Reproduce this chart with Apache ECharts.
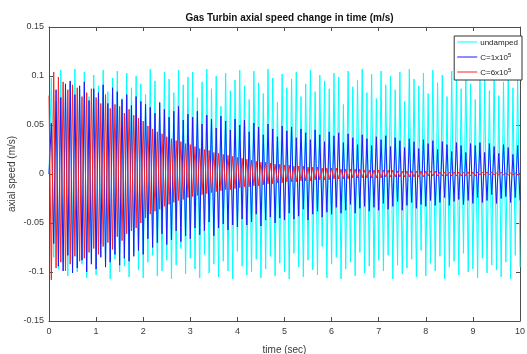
<!DOCTYPE html>
<html>
<head>
<meta charset="utf-8">
<script src="https://cdn.jsdelivr.net/npm/echarts@6/dist/echarts.min.js"></script>
<style>html,body{margin:0;padding:0;background:#fff}#c{width:527px;height:354px}</style>
</head>
<body>
<div id="c"></div>
<script>
// sample spacing of the traced signals (s)
const timeStep = 0.05;
const xTicks = [0,1,2,3,4,5,6,7,8,9,10];
const yTicks = [-0.15,-0.1,-0.05,0,0.05,0.1,0.15];
const seriesNames = ['undamped','C=1x10^5','C=6x10^5'];

// undamped (cyan) peaks/troughs
const undamped = [
0, 0.098, -0.085, 0.074, -0.097, 0.106, -0.090, 0.082, -0.104, 0.093, -0.078, 0.107, -0.100, 0.086, -0.092, 0.104, -0.106, 0.079, -0.088, 0.101,
-0.103, 0.090, -0.071, 0.106, -0.095, 0.084, -0.107, 0.098, -0.087, 0.105, -0.100, 0.077, -0.094, 0.103, -0.105, 0.088, -0.080, 0.100, -0.098, 0.092,
-0.106, 0.081, -0.090, 0.107, -0.083, 0.095, -0.104, 0.072, -0.099, 0.104, -0.088, 0.097, -0.107, 0.083, -0.093, 0.106, -0.076, 0.091, -0.102, 0.099,
-0.086, 0.104, -0.097, 0.078, -0.106, 0.094, -0.082, 0.107, -0.101, 0.087, -0.092, 0.100, -0.105, 0.069, -0.089, 0.103, -0.099, 0.085, -0.107, 0.096,
-0.079, 0.106, -0.094, 0.090, -0.103, 0.076, -0.100, 0.105, -0.087, 0.093, -0.106, 0.082, -0.097, 0.107, -0.084, 0.098, -0.104, 0.073, -0.091, 0.102,
-0.100, 0.088, -0.107, 0.097, -0.081, 0.104, -0.095, 0.079, -0.105, 0.092, -0.088, 0.106, -0.098, 0.084, -0.103, 0.101, -0.074, 0.095, -0.106, 0.087,
-0.092, 0.103, -0.085, 0.099, -0.107, 0.071, -0.097, 0.105, -0.090, 0.089, -0.104, 0.096, -0.080, 0.107, -0.101, 0.083, -0.094, 0.102, -0.106, 0.077,
-0.088, 0.105, -0.099, 0.091, -0.083, 0.100, -0.107, 0.086, -0.093, 0.104, -0.102, 0.074, -0.096, 0.107, -0.087, 0.097, -0.105, 0.090, -0.078, 0.103,
-0.104, 0.082, -0.091, 0.106, -0.099, 0.093, -0.084, 0.101, -0.107, 0.079, -0.095, 0.105, -0.089, 0.098, -0.103, 0.087, -0.081, 0.107, -0.100, 0.092,
-0.097, 0.076, -0.106, 0.103, -0.086, 0.096, -0.101, 0.085, -0.093, 0.107, -0.098, 0.080, -0.105, 0.094, -0.090, 0.104, -0.107, 0.088, -0.083, 0.100,
-0.095
];

// C = 1x10^5 (blue)
const damped1 = [
0, 0.052, -0.071, 0.086, -0.094, 0.078, -0.099, 0.092, -0.083, 0.095, -0.101, 0.081, -0.096, 0.090, -0.088, 0.094, -0.100, 0.075, -0.092, 0.087,
-0.097, 0.083, -0.085, 0.091, -0.095, 0.072, -0.090, 0.088, -0.082, 0.084, -0.093, 0.076, -0.086, 0.081, -0.089, 0.070, -0.084, 0.079, -0.078, 0.074,
-0.082, 0.071, -0.066, 0.068, -0.075, 0.062, -0.070, 0.073, -0.061, 0.066, -0.072, 0.058, -0.067, 0.064, -0.058, 0.069, -0.069, 0.055, -0.063, 0.061,
-0.066, 0.058, -0.055, 0.064, -0.062, 0.051, -0.058, 0.060, -0.049, 0.056, -0.063, 0.047, -0.055, 0.059, -0.051, 0.054, -0.057, 0.045, -0.052, 0.056,
-0.054, 0.050, -0.046, 0.055, -0.052, 0.043, -0.049, 0.052, -0.041, 0.048, -0.053, 0.040, -0.047, 0.051, -0.044, 0.046, -0.050, 0.038, -0.045, 0.049,
-0.047, 0.044, -0.040, 0.048, -0.046, 0.037, -0.043, 0.046, -0.036, 0.042, -0.047, 0.035, -0.041, 0.045, -0.038, 0.040, -0.044, 0.033, -0.039, 0.043,
-0.041, 0.039, -0.034, 0.042, -0.040, 0.032, -0.037, 0.041, -0.031, 0.037, -0.040, 0.030, -0.035, 0.040, -0.033, 0.036, -0.038, 0.029, -0.034, 0.038,
-0.037, 0.035, -0.030, 0.039, -0.036, 0.028, -0.033, 0.037, -0.028, 0.034, -0.037, 0.027, -0.032, 0.036, -0.029, 0.033, -0.035, 0.026, -0.031, 0.035,
-0.033, 0.031, -0.027, 0.034, -0.032, 0.025, -0.029, 0.033, -0.024, 0.030, -0.032, 0.023, -0.028, 0.032, -0.026, 0.029, -0.031, 0.022, -0.027, 0.031,
-0.030, 0.029, -0.024, 0.032, -0.029, 0.022, -0.027, 0.031, -0.021, 0.028, -0.030, 0.021, -0.025, 0.030, -0.023, 0.027, -0.029, 0.020, -0.024, 0.029,
-0.027
];

// C = 6x10^5 (red)
const damped6 = [
0.080, -0.108, 0.104, -0.096, 0.099, -0.090, 0.094, -0.099, 0.086, -0.092, 0.091, -0.084, 0.088, -0.089, 0.079, -0.086, 0.083, -0.080, 0.087, -0.076,
0.078, -0.082, 0.072, -0.074, 0.081, -0.070, 0.067, -0.077, 0.071, -0.064, 0.069, -0.068, 0.062, -0.061, 0.066, -0.058, 0.060, -0.055, 0.057, -0.050,
0.054, -0.045, 0.049, -0.041, 0.046, -0.038, 0.043, -0.036, 0.041, -0.033, 0.038, -0.031, 0.036, -0.029, 0.034, -0.027, 0.033, -0.026, 0.031, -0.024,
0.030, -0.023, 0.028, -0.022, 0.026, -0.021, 0.025, -0.020, 0.024, -0.019, 0.022, -0.018, 0.021, -0.017, 0.020, -0.016, 0.019, -0.016, 0.018, -0.015,
0.017, -0.014, 0.016, -0.013, 0.015, -0.013, 0.014, -0.012, 0.013, -0.012, 0.012, -0.011, 0.012, -0.010, 0.011, -0.010, 0.010, -0.009, 0.010, -0.009,
0.009, -0.008, 0.009, -0.008, 0.008, -0.008, 0.008, -0.007, 0.008, -0.007, 0.007, -0.007, 0.007, -0.006, 0.007, -0.006, 0.006, -0.006, 0.006, -0.006,
0.006, -0.005, 0.006, -0.005, 0.005, -0.005, 0.005, -0.005, 0.005, -0.004, 0.005, -0.004, 0.005, -0.004, 0.004, -0.004, 0.004, -0.004, 0.004, -0.004,
0.004, -0.004, 0.004, -0.003, 0.004, -0.003, 0.004, -0.003, 0.003, -0.003, 0.003, -0.003, 0.003, -0.003, 0.003, -0.003, 0.003, -0.003, 0.003, -0.003,
0.003, -0.002, 0.003, -0.002, 0.003, -0.002, 0.002, -0.002, 0.002, -0.002, 0.002, -0.002, 0.002, -0.002, 0.002, -0.002, 0.002, -0.002, 0.002, -0.002,
0.002, -0.002, 0.002, -0.001, 0.002, -0.001, 0.002, -0.001, 0.002, -0.001, 0.001, -0.001, 0.002, -0.001, 0.001, -0.001, 0.001, -0.001, 0.001, -0.001,
0.001
];

function pairs(vals){ return vals.map((v,i)=>[+(i*timeStep).toFixed(2), v]); }

const axisColor = '#4d4d4d';
const labelColor = '#3a3a3a';
const font = 'Liberation Sans, Arial, sans-serif';

const chart = echarts.init(document.getElementById('c'), null, {renderer:'canvas'});
const legendRich = {
  n:{fontSize:8, fontFamily:font, color:'#222', lineHeight:10, verticalAlign:'bottom'},
  s:{fontSize:6, fontFamily:font, color:'#222', lineHeight:8, verticalAlign:'top'}
};
function axisCommon(){
  return {
    axisLine:{show:true, onZero:false, lineStyle:{color:axisColor, width:1}},
    axisTick:{show:true, inside:true, length:4, lineStyle:{color:axisColor}},
    splitLine:{show:false}
  };
}
chart.setOption({
  animation:false,
  backgroundColor:'#fff',
  title:{
    text:'Gas Turbin axial speed change in time (m/s)',
    left:284.5, top:8, textAlign:'center',
    textStyle:{fontSize:10, fontWeight:'bold', fontFamily:font, color:'#111'}
  },
  legend:{
    orient:'vertical', right:5, top:36,
    backgroundColor:'#fff', borderColor:'#333', borderWidth:1, borderRadius:0,
    padding:[3,4,3,3], itemGap:5, itemWidth:20, itemHeight:12,
    data:seriesNames.map((n,i)=>({name:n, icon:'path://M0,5.5L20,5.5L20,6.5L0,6.5Z'})),
    formatter:function(name){
      const m = name.match(/^(.*)\^(.*)$/);
      return m ? '{n|'+m[1]+'}{s|'+m[2]+'}' : '{n|'+name+'}';
    },
    textStyle:{rich:legendRich, padding:[0,0,0,-2]}
  },
  grid:{left:49, right:7, top:27, bottom:33, containLabel:false, outerBoundsMode:'none'},
  xAxis:[Object.assign(axisCommon(), {
    type:'value', min:0, max:10, interval:1, position:'bottom',
    name:'time (sec)', nameLocation:'middle', nameGap:24, nameMoveOverlap:false,
    nameTextStyle:{fontSize:10, fontFamily:font, color:labelColor},
    axisLabel:{fontSize:9, fontFamily:font, color:labelColor, margin:6}
  }), Object.assign(axisCommon(), {
    type:'value', min:0, max:10, interval:1, position:'top',
    axisLabel:{show:false}
  })],
  yAxis:[Object.assign(axisCommon(), {
    type:'value', min:-0.15, max:0.15, interval:0.05, position:'left',
    name:'axial speed (m/s)', nameLocation:'middle', nameGap:37, nameRotate:90, nameMoveOverlap:false,
    nameTextStyle:{fontSize:10, fontFamily:font, color:labelColor, verticalAlign:'middle'},
    axisLabel:{fontSize:9, fontFamily:font, color:labelColor, margin:5,
      formatter:function(v){ return String(+v.toFixed(2)); }}
  }), Object.assign(axisCommon(), {
    type:'value', min:-0.15, max:0.15, interval:0.05, position:'right',
    axisLabel:{show:false}
  })],
  series:[
    {name:seriesNames[0], type:'line', data:pairs(undamped), showSymbol:false,
      lineStyle:{color:'#00ffff', width:1}, itemStyle:{color:'#00ffff'}, z:2},
    {name:seriesNames[1], type:'line', data:pairs(damped1), showSymbol:false,
      lineStyle:{color:'#1a1aff', width:1}, itemStyle:{color:'#1a1aff'}, z:3},
    {name:seriesNames[2], type:'line', data:pairs(damped6), showSymbol:false,
      lineStyle:{color:'#ff2020', width:1}, itemStyle:{color:'#ff2020'}, z:4}
  ]
});
</script>
</body>
</html>
